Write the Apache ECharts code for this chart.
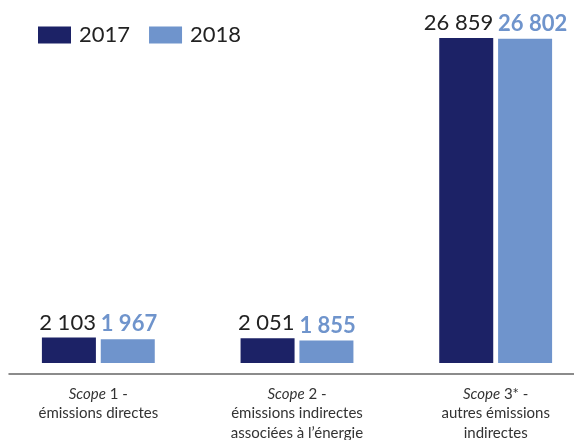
<!DOCTYPE html>
<html>
<head>
<meta charset="utf-8">
<script src="https://cdn.jsdelivr.net/npm/echarts@6/dist/echarts.min.js"></script>
<style>html,body{margin:0;padding:0;background:#fff}#c{width:574px;height:440px}</style>
</head>
<body>
<div id="c"></div>
<script>
var categories = ['{i|Scope} 1 -\némissions directes', '{i|Scope} 2 -\némissions indirectes\nassociées à l\u2019énergie', '{i|Scope} 3* -\nautres émissions\nindirectes'];
var seriesNames = ['2017', '2018'];
var values2017 = [2103, 2051, 26859];
var values2018 = [1967, 1855, 26802];

var FONT = 'Lato, "Noto Sans", sans-serif';
var DARK = '#1c2266';
var LIGHT = '#6f94cc';
function fmt(p) { return String(p.value).replace(/\B(?=(\d{3})+(?!\d))/g, ' '); }

var chart = echarts.init(document.getElementById('c'));
chart.setOption({
  animation: false,
  textStyle: { fontFamily: FONT },
  legend: {
    left: 38, top: 24, padding: 0,
    itemWidth: 33, itemHeight: 17, itemGap: 19,
    icon: 'rect',
    textStyle: { fontSize: 22, color: '#222', fontFamily: FONT, padding: [0, 0, 0, 3] },
    data: seriesNames
  },
  grid: [
    { left: -1, width: 596, top: 0, height: 363, outerBoundsMode: 'none', containLabel: false },
    { left: 9, right: 0, top: 0, height: 374, outerBoundsMode: 'none', containLabel: false }
  ],
  xAxis: [
    {
      type: 'category', gridIndex: 0, data: categories, offset: 11,
      axisLine: { show: false }, axisTick: { show: false },
      axisLabel: {
        margin: 10, interval: 0, fontSize: 15, lineHeight: 19.5, color: '#333', fontFamily: FONT,
        rich: { i: { fontStyle: 'italic', fontSize: 15, lineHeight: 19.5, color: '#333', fontFamily: FONT } }
      }
    },
    {
      type: 'category', gridIndex: 1, data: [''],
      axisLine: { show: true, lineStyle: { color: '#666', width: 1.5 } },
      axisTick: { show: false }, axisLabel: { show: false }
    }
  ],
  yAxis: [
    { type: 'value', gridIndex: 0, min: 0, max: 30000, show: false, splitLine: { show: false } },
    { type: 'value', gridIndex: 1, min: 0, max: 1, show: false, splitLine: { show: false } }
  ],
  series: [
    {
      name: seriesNames[0], type: 'bar', data: values2017, barWidth: 54, barGap: '9%',
      itemStyle: { color: DARK },
      label: {
        show: true, position: ['100%', -4], align: 'right', verticalAlign: 'bottom',
        formatter: fmt, fontSize: 22, color: '#222', fontFamily: FONT
      }
    },
    {
      name: seriesNames[1], type: 'bar', data: values2018, barWidth: 54, barGap: '9%',
      itemStyle: { color: LIGHT },
      label: {
        show: true, position: [0, -4], align: 'left', verticalAlign: 'bottom',
        formatter: fmt, fontSize: 22, fontWeight: 'bold', color: LIGHT, fontFamily: FONT
      }
    }
  ]
});
</script>
</body>
</html>
